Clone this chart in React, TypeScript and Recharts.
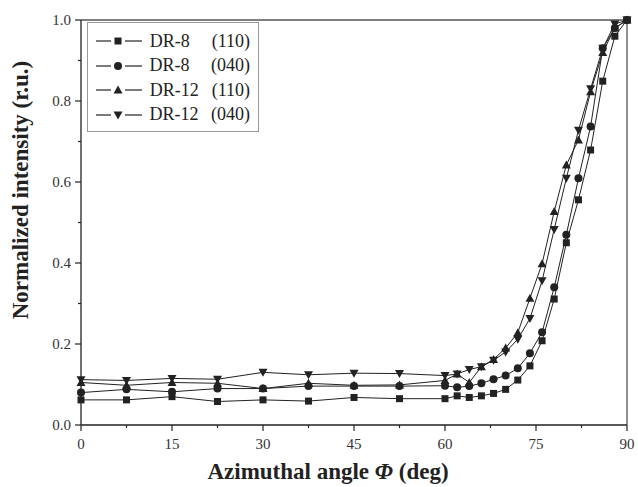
import React from 'react';
import { LineChart, Line, XAxis, YAxis, Legend, ReferenceLine } from 'recharts';

// azimuthal angle (deg)
const angles = [0, 7.5, 15, 22.5, 30, 37.5, 45, 52.5, 60, 62, 64, 66, 68, 70, 72, 74, 76, 78, 80, 82, 84, 86, 88, 90];

// normalized intensities
const dr8_110 = [0.062, 0.062, 0.070, 0.058, 0.062, 0.059, 0.068, 0.065, 0.065, 0.072, 0.068, 0.072, 0.078, 0.088, 0.111, 0.146, 0.208, 0.311, 0.450, 0.556, 0.679, 0.849, 0.96, 1.0];
const dr8_040 = [0.080, 0.088, 0.082, 0.090, 0.090, 0.096, 0.096, 0.096, 0.097, 0.093, 0.096, 0.103, 0.113, 0.122, 0.140, 0.177, 0.229, 0.340, 0.470, 0.609, 0.737, 0.930, 0.98, 1.0];
const dr12_110 = [0.105, 0.098, 0.105, 0.103, 0.090, 0.103, 0.098, 0.099, 0.110, 0.126, 0.105, 0.144, 0.162, 0.190, 0.228, 0.313, 0.398, 0.527, 0.642, 0.704, 0.823, 0.920, 0.98, 1.0];
const dr12_040 = [0.112, 0.110, 0.115, 0.113, 0.130, 0.124, 0.128, 0.127, 0.122, 0.126, 0.137, 0.144, 0.160, 0.180, 0.212, 0.263, 0.356, 0.483, 0.609, 0.728, 0.830, 0.930, 0.99, 1.0];

const xTicks = [0, 7.5, 15, 22.5, 30, 37.5, 45, 52.5, 60, 67.5, 75, 82.5, 90];
const yTicks = [0, 0.1, 0.2, 0.3, 0.4, 0.5, 0.6, 0.7, 0.8, 0.9, 1.0];

type Shape = 'square' | 'circle' | 'up' | 'down';

const series: { key: string; name: string; plane: string; shape: Shape; values: number[] }[] = [
    { key: 'dr8_110', name: 'DR-8', plane: '(110)', shape: 'square', values: dr8_110 },
    { key: 'dr8_040', name: 'DR-8', plane: '(040)', shape: 'circle', values: dr8_040 },
    { key: 'dr12_110', name: 'DR-12', plane: '(110)', shape: 'up', values: dr12_110 },
    { key: 'dr12_040', name: 'DR-12', plane: '(040)', shape: 'down', values: dr12_040 },
];

const data = angles.map((a, i) => {
    const row: Record<string, number> = { angle: a };
    series.forEach((s) => { row[s.key] = s.values[i]; });
    return row;
});

const SERIF = '"Liberation Serif", "Times New Roman", serif';
const INK = '#222';

function Marker({ cx, cy, shape }: { cx: number; cy: number; shape: Shape }) {
    if (cx == null || cy == null) return null;
    if (shape === 'square') return <rect x={cx - 3.5} y={cy - 3.5} width={7} height={7} fill={INK} />;
    if (shape === 'circle') return <circle cx={cx} cy={cy} r={4} fill={INK} />;
    if (shape === 'up') return <polygon points={`${cx},${cy - 4.5} ${cx + 4.5},${cy + 3.5} ${cx - 4.5},${cy + 3.5}`} fill={INK} />;
    return <polygon points={`${cx},${cy + 4.5} ${cx + 4.5},${cy - 3.5} ${cx - 4.5},${cy - 3.5}`} fill={INK} />;
}

const XTick = (props: any) => {
    const { x, y, payload } = props;
    const major = payload.value % 15 === 0;
    return (
        <g>
            <line x1={x} y1={y} x2={x} y2={y + (major ? 6 : 3)} stroke={INK} strokeWidth={1.2} />
            {major && (
                <text x={x} y={y + 24} textAnchor="middle" fontSize={15} fontFamily={SERIF} fill="#333">
                    {payload.value}
                </text>
            )}
        </g>
    );
};

const YTick = (props: any) => {
    const { x, y, payload } = props;
    const major = Math.round(payload.value * 10) % 2 === 0;
    return (
        <g>
            <line x1={x} y1={y} x2={x - (major ? 6 : 3)} y2={y} stroke={INK} strokeWidth={1.2} />
            {major && (
                <text x={x - 10} y={y + 5} textAnchor="end" fontSize={15} fontFamily={SERIF} fill="#333">
                    {payload.value.toFixed(1)}
                </text>
            )}
        </g>
    );
};

function LegendBox() {
    return (
        <div style={{ border: '1px solid #999', padding: '6px 8px 4px 6px', background: '#fff', fontFamily: SERIF, fontSize: 18, color: INK, width: 156 }}>
            {series.map((s) => (
                <div key={s.key} style={{ display: 'flex', alignItems: 'center', height: 24.5 }}>
                    <svg width={52} height={14} style={{ marginRight: 4 }}>
                        <line x1={2} y1={7} x2={17} y2={7} stroke={INK} strokeWidth={1.2} />
                        <line x1={31} y1={7} x2={48} y2={7} stroke={INK} strokeWidth={1.2} />
                        <Marker cx={24} cy={7} shape={s.shape} />
                    </svg>
                    <span style={{ width: 62 }}>{s.name}</span>
                    <span>{s.plane}</span>
                </div>
            ))}
        </div>
    );
}

export default function App() {
    return (
        <div style={{ position: 'absolute', left: 0, top: 0, background: '#fff' }}>
            <LineChart width={638} height={487} data={data} margin={{ top: 20, right: 11, left: 0, bottom: 0 }}>
                <XAxis
                    dataKey="angle"
                    type="number"
                    domain={[0, 90]}
                    ticks={xTicks}
                    interval={0}
                    height={62}
                    tickSize={0}
                    tickMargin={0}
                    tickLine={false}
                    tick={XTick}
                    axisLine={{ stroke: INK, strokeWidth: 1.3 }}
                    label={{
                        content: () => (
                            <text x={328} y={479} textAnchor="middle" fontSize={23} fontWeight="bold" fontFamily={SERIF} fill={INK}>
                                Azimuthal angle <tspan fontStyle="italic">Φ</tspan> (deg)
                            </text>
                        ),
                    }}
                />
                <YAxis
                    type="number"
                    domain={[0, 1]}
                    ticks={yTicks}
                    interval={0}
                    width={81}
                    tickSize={0}
                    tickMargin={0}
                    tickLine={false}
                    tick={YTick}
                    axisLine={{ stroke: INK, strokeWidth: 1.3 }}
                    label={{
                        content: () => (
                            <text x={28} y={190} transform="rotate(-90 28 190)" textAnchor="middle" fontSize={23} fontWeight="bold" fontFamily={SERIF} fill={INK}>
                                Normalized intensity (r.u.)
                            </text>
                        ),
                    }}
                />
                <ReferenceLine y={1} stroke="#555" strokeWidth={1.3} />
                <ReferenceLine x={90} stroke="#555" strokeWidth={1.3} />
                <Legend
                    layout="horizontal"
                    align="center"
                    verticalAlign="middle"
                    content={() => <LegendBox />}
                    wrapperStyle={{ left: 87, top: 22, width: 'auto' }}
                />
                {series.map((s) => (
                    <Line
                        key={s.key}
                        dataKey={s.key}
                        name={s.key}
                        type="linear"
                        stroke={INK}
                        strokeWidth={1}
                        isAnimationActive={false}
                        dot={(p: any) => <Marker key={`${s.key}-${p.index}`} cx={p.cx} cy={p.cy} shape={s.shape} />}
                        activeDot={false}
                    />
                ))}
            </LineChart>
        </div>
    );
}
